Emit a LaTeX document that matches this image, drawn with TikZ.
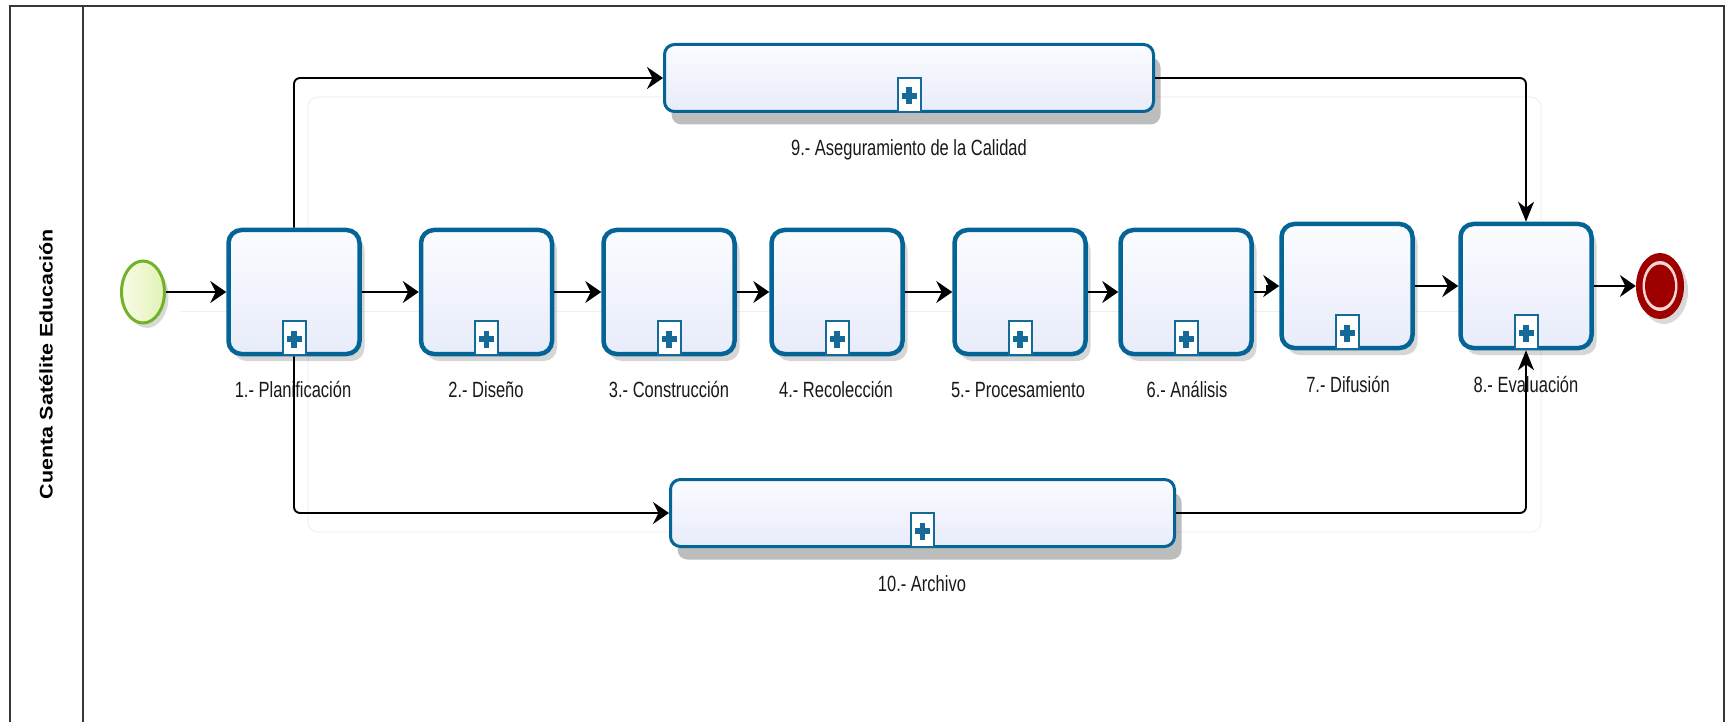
\documentclass[tikz,border=0pt]{standalone}
\usepackage{fontspec}
\usepackage{graphicx}
\setmainfont{Liberation Sans}
\newfontfamily\lblfont[FakeStretch=0.75]{Liberation Sans}
\usetikzlibrary{arrows.meta,shadows,shapes.geometric,calc}
\definecolor{taskblue}{RGB}{4,100,150}
\definecolor{mkblue}{RGB}{22,106,152}
\definecolor{taskA}{RGB}{251,252,255}
\definecolor{taskB}{RGB}{232,236,250}
\definecolor{startgreen}{RGB}{112,178,40}
\definecolor{startA}{RGB}{248,252,232}
\definecolor{startB}{RGB}{226,242,180}
\definecolor{endred}{RGB}{158,0,0}
\definecolor{endpink}{RGB}{248,214,214}
\definecolor{framegray}{RGB}{55,55,55}
\newcommand{\submk}[2]{%
  \node[mk, anchor=south] (#2) at (#1.south) {};
  \fill[mkblue] ([xshift=-7.5pt,yshift=-4pt]#2.center) rectangle ([xshift=7.5pt,yshift=2pt]#2.center);
  \fill[mkblue] ([xshift=-2.7pt,yshift=-9.5pt]#2.center) rectangle ([xshift=2.7pt,yshift=7.5pt]#2.center);}
\begin{document}
\begin{tikzpicture}[x=1pt,y=-1pt,
  taskbase/.style={draw=taskblue, top color=taskA, bottom color=taskB, inner sep=0pt},
  task/.style={taskbase, line width=4.5pt, rounded corners=13pt,
     minimum width=131pt, minimum height=124pt,
     drop shadow={shadow xshift=5pt, shadow yshift=-7pt, opacity=0.16, fill=black}},
  widetask/.style={taskbase, line width=3pt, rounded corners=10pt,
     minimum height=67pt,
     drop shadow={shadow xshift=7pt, shadow yshift=-13pt, opacity=0.26, fill=black}},
  mk/.style={draw=mkblue, line width=2pt, fill=white, minimum width=23pt, minimum height=34pt, inner sep=0pt},
  flow/.style={draw=black, line width=1.9pt},
  harr/.style={-{Stealth[length=16pt,width=22pt,inset=5.5pt]}},
  varr/.style={-{Stealth[length=20pt,width=16pt,inset=6pt]}},
  lbl/.style={font=\lblfont\fontsize{22}{24}\selectfont, inner sep=0pt, text=black!90},
  faint/.style={draw=black!6, line width=1pt}]
\useasboundingbox (0,0) rectangle (1725,722);
\clip (0,0) rectangle (1725,722);
\fill[white] (0,0) rectangle (1725,722);
% faint background group
\draw[faint, rounded corners=10pt] (308,97) rectangle (1541,532);
\draw[faint] (180,311) -- (1541,311);
% pool frame
\draw[framegray, line width=2pt] (10,740) -- (10,6) -- (1724,6) -- (1724,740);
\draw[framegray, line width=2pt] (83,6) -- (83,740);
\node[rotate=90, font=\bfseries\fontsize{21.5}{24}\selectfont, inner sep=0pt] (lane) at (46,364) {\scalebox{1}[0.85]{Cuenta Satélite Educación}};
% events
\node[ellipse, draw=startgreen, line width=3pt, left color=startA, right color=startB,
  minimum width=43pt, minimum height=62pt, inner sep=0pt,
  drop shadow={shadow xshift=4pt, shadow yshift=-5pt, opacity=0.15, fill=black}] (s) at (143,292) {};
\node[ellipse, fill=endred, minimum width=48pt, minimum height=66pt, inner sep=0pt,
  drop shadow={shadow xshift=4pt, shadow yshift=-5pt, opacity=0.15, fill=black}] (e) at (1660,286) {};
\node[ellipse, fill=endpink, minimum width=35pt, minimum height=50pt, inner sep=0pt] (eg) at (e.center) {};
\node[ellipse, fill=endred, minimum width=30pt, minimum height=43pt, inner sep=0pt] (ei) at (e.center) {};
% tasks
\node[task] (t1) at (294,292) {};
\node[task] (t2) at (486.5,292) {};
\node[task] (t3) at (669,292) {};
\node[task] (t4) at (837,292) {};
\node[task] (t5) at (1020,292) {};
\node[task] (t6) at (1186,292) {};
\node[task] (t7) at (1347,286) {};
\node[task] (t8) at (1526,286) {};
\node[widetask, minimum width=489pt] (t9) at (909,78) {};
\node[widetask, minimum width=504pt] (t10) at (922.5,513) {};
\submk{t1}{m1}\submk{t2}{m2}\submk{t3}{m3}\submk{t4}{m4}\submk{t5}{m5}
\submk{t6}{m6}\submk{t7}{m7}\submk{t8}{m8}\submk{t9}{m9}\submk{t10}{m10}
% labels
\node[lbl] (l1) at (293,390) {1.- Planificación};
\node[lbl] (l2) at (486,390) {2.- Diseño};
\node[lbl] (l3) at (669,390) {3.- Construcción};
\node[lbl] (l4) at (836,390) {4.- Recolección};
\node[lbl] (l5) at (1018,390) {5.- Procesamiento};
\node[lbl] (l6) at (1187,390) {6.- Análisis};
\node[lbl] (l7) at (1348,385) {7.- Difusión};
\node[lbl] (l8) at (1526,385) {8.- Evaluación};
\node[lbl] (l9) at (909,150) {9.- Aseguramiento de la Calidad};
\node[lbl] (l10) at (922,584) {10.- Archivo};
% connectors
\coordinate (j67) at (1267,292);
\draw[flow,harr] (s.east) -- (t1.west);
\draw[flow,harr] (t1.east) -- (t2.west);
\draw[flow,harr] (t2.east) -- (t3.west);
\draw[flow,harr] (t3.east) -- (t4.west);
\draw[flow,harr] (t4.east) -- (t5.west);
\draw[flow,harr] (t5.east) -- (t6.west);
\draw[flow,harr] (t6.east) -- (j67) |- (t7.west);
\draw[flow,harr] (t7.east) -- (t8.west);
\draw[flow,harr] (t8.east) -- (e.west);
\draw[flow,harr,rounded corners=6pt] (t1.north) |- (t9.west);
\draw[flow,varr,rounded corners=6pt] (t9.east) -| (t8.north);
\draw[flow,harr,rounded corners=6pt] (t1.south) |- (t10.west);
\draw[flow,varr,rounded corners=6pt] (t10.east) -| (t8.south);
\end{tikzpicture}
\end{document}
